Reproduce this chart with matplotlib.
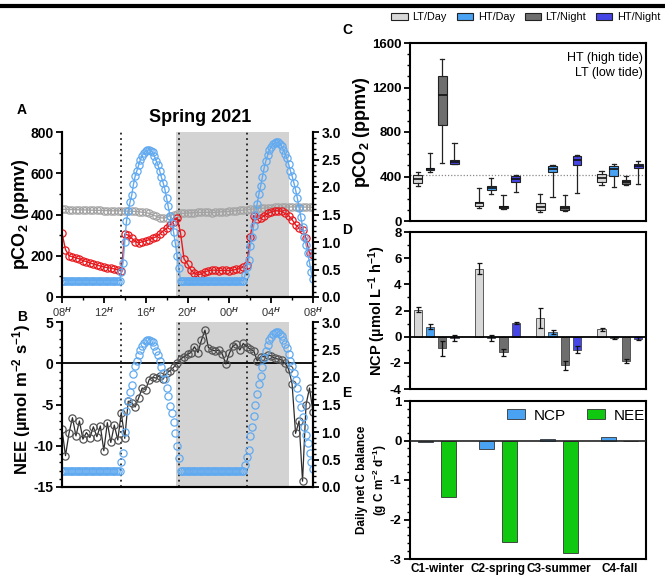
import matplotlib
matplotlib.use('Agg')
import matplotlib.pyplot as plt
import numpy as np
from matplotlib.patches import Patch
from matplotlib.lines import Line2D
from matplotlib.ticker import MultipleLocator

plt.rcParams['font.family'] = ['Liberation Sans', 'DejaVu Sans']
plt.rcParams['font.weight'] = 'bold'
plt.rcParams['mathtext.fontset'] = 'custom'
plt.rcParams['mathtext.rm'] = 'Liberation Sans'
plt.rcParams['mathtext.bf'] = 'Liberation Sans:bold'
plt.rcParams['mathtext.it'] = 'Liberation Sans:italic'
plt.rcParams['axes.linewidth'] = 1.5
plt.rcParams['axes.unicode_minus'] = False

# ---------------- Data: panel A / B (hours after 08:00) ----------------
hour_ticks = [0, 4, 8, 12, 16, 20, 24]
hour_labels = ['08$^{H}$', '12$^{H}$', '16$^{H}$', '20$^{H}$', '00$^{H}$', '04$^{H}$', '08$^{H}$']
tide_boundaries = [5.65, 11.2, 17.7]     # dotted lines
night_start, night_end = 10.9, 21.7       # shaded night

# 20-min samples
pco2_water = [310, 230, 200, 195, 190, 185, 176, 172, 165, 160,
              155, 150, 146, 142, 140, 136, 132, 125, 305, 300,
              285, 268, 262, 268, 272, 278, 285, 292, 305, 320,
              333, 350, 366, 385, 310, 185, 160, 130, 115, 108,
              112, 122, 128, 130, 130, 128, 129, 129, 128, 130,
              134, 138, 145, 155, 290, 395, 380, 382, 395, 405,
              412, 418, 418, 415, 405, 395, 375, 350, 335, 325,
              285, 213, 205]
pco2_air = [425, 425, 424, 424, 423, 423, 422, 422, 421, 421,
            420, 420, 419, 419, 418, 418, 418, 417, 417, 416,
            416, 415, 413, 411, 410, 405, 398, 392, 385, 383,
            385, 395, 400, 403, 405, 406, 407, 408, 409, 410,
            410, 411, 410, 409, 410, 412, 413, 414, 415, 417,
            418, 420, 421, 423, 425, 427, 428, 430, 431, 432,
            433, 434, 435, 435, 436, 436, 437, 437, 437, 436,
            436, 435, 435]
nee = [-8.0, -11.2, -8.5, -6.6, -8.8, -7.0, -9.2, -8.4, -9.0, -7.7,
       -8.9, -7.6, -10.6, -7.2, -9.6, -7.5, -9.3, -6.0, -9.1, -4.6,
       -4.8, -5.3, -4.2, -3.0, -3.2, -2.0, -1.7, -1.8, -1.5, -1.9,
       -1.2, -0.9, -0.5, 0.0, 0.5, 0.8, 1.1, 1.3, 2.0, 1.3,
       2.8, 4.0, 1.9, 1.6, 1.5, 1.6, 1.1, -0.1, 1.2, 2.1,
       2.3, 1.6, 2.4, 2.0, 1.7, 1.5, 0.3, 0.8, 0.8, 1.0,
       0.9, 0.6, 0.5, 0.4, 0.0, -0.7, -2.5, -8.5, -7.0, -14.3,
       -5.0, -3.0, -5.9]
t20 = np.arange(len(pco2_water)) / 3.0

# 10-min samples of water level (m)
tide = [0.30, 0.30, 0.30, 0.30, 0.30, 0.30, 0.30, 0.30, 0.30, 0.30, 0.30, 0.30,
        0.30, 0.30, 0.30, 0.30, 0.30, 0.30, 0.30, 0.30, 0.30, 0.30, 0.30, 0.30,
        0.30, 0.30, 0.30, 0.30, 0.30, 0.30, 0.30, 0.30, 0.30, 0.30,
        0.45, 0.62, 1.00, 1.38, 1.57, 1.72, 1.85, 2.05, 2.20, 2.30, 2.40, 2.50,
        2.57, 2.62, 2.65, 2.67, 2.68, 2.66, 2.63, 2.56, 2.48, 2.40, 2.30, 2.18,
        2.08, 1.96, 1.80, 1.65, 1.47, 1.35, 1.18, 0.98, 0.75, 0.52, 0.30,
        0.30, 0.30, 0.30, 0.30, 0.30, 0.30, 0.30, 0.30, 0.30, 0.30, 0.30, 0.30,
        0.30, 0.30, 0.30, 0.30, 0.30, 0.30, 0.30, 0.30, 0.30, 0.30, 0.30, 0.30,
        0.30, 0.30, 0.30, 0.30, 0.30, 0.30, 0.30, 0.30, 0.30, 0.30, 0.30, 0.30,
        0.40, 0.55, 0.68, 0.92, 1.10, 1.30, 1.50, 1.70, 1.88, 2.02, 2.18, 2.35,
        2.48, 2.58, 2.67, 2.73, 2.78, 2.80, 2.81, 2.81, 2.78, 2.74, 2.68, 2.60,
        2.52, 2.42, 2.30, 2.20, 2.08, 1.95, 1.80, 1.62, 1.45, 1.28, 1.10, 0.95,
        0.80, 0.62, 0.45, 0.32]
t10 = np.arange(len(tide)) / 6.0

# ---------------- Data: panel C (box stats) ----------------
box_groups = ['LT/Day', 'HT/Day', 'LT/Night', 'HT/Night']
c_q1 = [340, 455, 865, 512, 135, 275, 118, 350, 95, 440, 100, 500, 355, 405, 330, 480]
c_med = [380, 468, 1135, 533, 158, 294, 125, 375, 125, 470, 115, 545, 390, 470, 355, 495]
c_q3 = [415, 480, 1305, 548, 175, 315, 133, 405, 165, 490, 135, 582, 420, 495, 370, 510]
c_lo = [318, 443, 525, 510, 120, 245, 105, 265, 85, 215, 90, 255, 320, 305, 325, 335]
c_hi = [443, 608, 1456, 700, 300, 390, 230, 415, 240, 505, 230, 597, 445, 510, 405, 538]
atm_ref = 410

# ---------------- Data: panel D ----------------
ncp_mean = [2.05, 0.75, -0.9, -0.1, 5.2, -0.1, -1.2, 1.05, 1.45, 0.35, -2.2, -1.0, 0.55, -0.1, -1.85, -0.15]
ncp_err = [0.2, 0.2, 0.6, 0.25, 0.4, 0.2, 0.25, 0.1, 0.75, 0.15, 0.35, 0.25, 0.1, 0.1, 0.15, 0.1]

# ---------------- Data: panel E ----------------
campaigns = ['C1-winter', 'C2-spring', 'C3-summer', 'C4-fall']
e_ncp = [-0.05, -0.22, 0.05, 0.09]
e_nee = [-1.43, -2.56, -2.84, 0.0]

# ---------------- Styling ----------------
blue_tide = '#62aaf0'
red = '#e8191e'
gray_air = '#a3a3a3'
group_colors = ['#d8d8d8', '#4aa2f2', '#6e6e6e', '#4646e6']
green = '#10c810'

fig = plt.figure(figsize=(6.65, 5.75), dpi=100)
W, H = 665.0, 575.0


def ax_px(x0, y0, x1, y1):
    return fig.add_axes([x0 / W, 1 - y1 / H, (x1 - x0) / W, (y1 - y0) / H])


def bold_ticks(ax):
    for lab in ax.get_xticklabels() + ax.get_yticklabels():
        lab.set_fontweight('bold')


def ytick_style(ax, size=10):
    ax.tick_params(axis='y', labelsize=size, width=1.3, length=4, pad=2)
    ax.tick_params(axis='y', which='minor', width=1.0, length=2.5)


fig.add_artist(Line2D([0, 1], [1 - 6 / H, 1 - 6 / H], color='k', lw=3, transform=fig.transFigure))

mk = dict(marker='o', mfc='none', ms=5.2, mew=0.9)

# ---------------- Panel A ----------------
axA = ax_px(62, 132, 313, 297)
axA.set_xlim(0, 24)
axA.set_ylim(0, 800)
axA.axvspan(night_start, night_end, color='#d3d3d3', lw=0, zorder=0)
for v in tide_boundaries:
    axA.axvline(v, color='#222222', ls=(0, (1, 2)), lw=1.3, zorder=1)
axA.plot(t20, pco2_air, color=gray_air, lw=1, zorder=3, **mk)
axA.plot(t20, pco2_water, color=red, lw=1, zorder=4, **mk)
axA.spines['top'].set_visible(False)
axA.set_yticks([0, 200, 400, 600, 800])
axA.yaxis.set_minor_locator(MultipleLocator(100))
axA.set_xticks(hour_ticks)
axA.set_xticklabels(hour_labels, fontsize=8, fontweight='normal', color='#333333')
axA.xaxis.set_minor_locator(MultipleLocator(2))
ytick_style(axA)
axA.tick_params(axis='x', width=1.3, length=4, pad=2)
axA.tick_params(axis='x', which='minor', width=1.0, length=2.5)
axA.set_ylabel(r'pCO$_\mathbf{2}$ (ppmv)', fontsize=13, fontweight='bold')
axA.yaxis.set_label_coords(-0.125, 0.5)
for lab in axA.get_yticklabels():
    lab.set_fontweight('bold')

axAr = axA.twinx()
axAr.set_ylim(0, 3)
axAr.plot(t10, tide, color=blue_tide, lw=1, zorder=2, **mk)
axAr.spines['top'].set_visible(False)
axAr.set_yticks([0, 0.5, 1.0, 1.5, 2.0, 2.5, 3.0])
axAr.set_yticklabels(['0.0', '0.5', '1.0', '1.5', '2.0', '2.5', '3.0'])
axAr.yaxis.set_minor_locator(MultipleLocator(0.1))
ytick_style(axAr)
bold_ticks(axAr)

fig.text(200 / W, 1 - 118 / H, 'Spring 2021', ha='center', va='center', fontsize=13, fontweight='bold')
fig.text(22 / W, 1 - 110 / H, 'A', ha='center', va='center', fontsize=10, fontweight='bold')

# ---------------- Panel B ----------------
axB = ax_px(62, 322, 313, 487)
axB.set_xlim(0, 24)
axB.set_ylim(-15, 5)
axB.axvspan(night_start, night_end, color='#d3d3d3', lw=0, zorder=0)
for v in tide_boundaries:
    axB.axvline(v, color='#222222', ls=(0, (1, 2)), lw=1.3, zorder=1)
axB.axhline(0, color='k', lw=1.3, zorder=2)
axB.plot(t20, nee, color='#2b2b2b', lw=0.9, marker='o', mfc='none', mec='#555555', ms=5.2, mew=0.9, zorder=4)
axB.spines['top'].set_visible(False)
axB.set_xticks([])
axB.set_yticks([-15, -10, -5, 0, 5])
axB.yaxis.set_minor_locator(MultipleLocator(1))
ytick_style(axB)
axB.set_ylabel(r'NEE (µmol m$^{\mathbf{-2}}$ s$^{\mathbf{-1}}$)', fontsize=12, fontweight='bold')
axB.yaxis.set_label_coords(-0.115, 0.53)
bold_ticks(axB)

axBr = axB.twinx()
axBr.set_ylim(0, 3)
axBr.plot(t10, tide, color=blue_tide, lw=0, zorder=2, **mk)
axBr.spines['top'].set_visible(False)
axBr.set_yticks([0, 0.5, 1.0, 1.5, 2.0, 2.5, 3.0])
axBr.set_yticklabels(['0.0', '0.5', '1.0', '1.5', '2.0', '2.5', '3.0'])
axBr.yaxis.set_minor_locator(MultipleLocator(0.1))
ytick_style(axBr)
bold_ticks(axBr)
fig.text(22 / W, 1 - 317 / H, 'B', ha='center', va='center', fontsize=10, fontweight='bold')

# ---------------- Panel C ----------------
positions = [g * 5 + i for g in range(4) for i in range(4)]
axC = ax_px(410, 43, 646, 221)
stats = []
for k in range(len(c_med)):
    stats.append(dict(med=c_med[k], q1=c_q1[k], q3=c_q3[k], whislo=c_lo[k], whishi=c_hi[k], fliers=[]))
bp = axC.bxp(stats, positions=positions, widths=0.7, patch_artist=True, showfliers=False,
             boxprops=dict(edgecolor='#222222', linewidth=0.8),
             medianprops=dict(color='#111111', linewidth=1.2),
             whiskerprops=dict(color='#222222', linewidth=0.9),
             capprops=dict(color='#222222', linewidth=0.9), capwidths=0.35)
for k, patch in enumerate(bp['boxes']):
    patch.set_facecolor(group_colors[k % 4])
axC.axhline(atm_ref, color='#888888', ls=(0, (1, 1.5)), lw=0.9, zorder=0)
axC.set_xlim(-0.63, 18.63)
axC.set_ylim(0, 1600)
axC.set_xticks([])
axC.set_yticks([0, 400, 800, 1200, 1600])
axC.yaxis.set_minor_locator(MultipleLocator(100))
ytick_style(axC, 9.5)
axC.set_ylabel(r'pCO$_\mathbf{2}$ (ppmv)', fontsize=13, fontweight='bold')
axC.yaxis.set_label_coords(-0.16, 0.5)
bold_ticks(axC)
axC.text(0.985, 0.95, 'HT (high tide)\nLT (low tide)', transform=axC.transAxes, ha='right', va='top',
         fontsize=9, fontweight='normal', linespacing=1.3)
fig.text(347 / W, 1 - 30 / H, 'C', ha='center', va='center', fontsize=10, fontweight='bold')

handles = [Patch(facecolor=c, edgecolor='#222222', linewidth=0.8) for c in group_colors]
fig.legend(handles, box_groups, loc='center', bbox_to_anchor=(526 / W, 1 - 17 / H), ncol=4, frameon=False,
           prop=dict(size=7.8, weight='normal'), handlelength=1.5, handleheight=0.6,
           columnspacing=0.9, handletextpad=0.45, borderaxespad=0, borderpad=0)

# ---------------- Panel D ----------------
axD = ax_px(410, 232, 646, 389)
axD.bar(positions, ncp_mean, width=0.68, color=[group_colors[k % 4] for k in range(16)],
        edgecolor='#444444', linewidth=0.6, zorder=2)
axD.errorbar(positions, ncp_mean, yerr=ncp_err, fmt='none', ecolor='#111111', elinewidth=0.9,
             capsize=1.8, capthick=0.9, zorder=3)
axD.axhline(0, color='k', lw=1.3, zorder=4)
axD.set_xlim(-0.63, 18.63)
axD.set_ylim(-4, 8)
axD.set_xticks([])
axD.set_yticks([-4, -2, 0, 2, 4, 6, 8])
axD.yaxis.set_minor_locator(MultipleLocator(1))
ytick_style(axD, 9.5)
axD.set_ylabel(r'NCP (µmol L$^{\mathbf{-1}}$ h$^{\mathbf{-1}}$)', fontsize=10.5, fontweight='bold')
axD.yaxis.set_label_coords(-0.095, 0.5)
bold_ticks(axD)
fig.text(347 / W, 1 - 230 / H, 'D', ha='center', va='center', fontsize=10, fontweight='bold')

# ---------------- Panel E ----------------
axE = ax_px(410, 401, 646, 559)
xe = np.arange(len(campaigns))
axE.bar(xe - 0.183, e_ncp, width=0.245, color=group_colors[1], edgecolor='#333333', linewidth=0.6, label='NCP', zorder=2)
axE.bar(xe + 0.183, e_nee, width=0.245, color=green, edgecolor='#333333', linewidth=0.6, label='NEE', zorder=2)
axE.axhline(0, color='#222222', lw=1.2, zorder=3)
axE.set_xlim(-0.445, 3.43)
axE.set_ylim(-3, 1)
axE.set_xticks(xe)
axE.set_xticklabels(campaigns, fontsize=8.5, fontweight='bold')
axE.tick_params(axis='x', length=0, pad=3)
axE.set_yticks([-3, -2, -1, 0, 1])
axE.yaxis.set_minor_locator(MultipleLocator(0.2))
ytick_style(axE, 9.5)
axE.set_ylabel('Daily net C balance\n' + r'(g C m$^{\mathbf{-2}}$ d$^{\mathbf{-1}}$)', fontsize=8.5, fontweight='bold',
               linespacing=1.2)
axE.yaxis.set_label_coords(-0.09, 0.5)
bold_ticks(axE)
axE.legend(loc='upper right', ncol=2, frameon=False, prop=dict(size=11, weight='normal'),
           handlelength=1.15, handleheight=0.6, columnspacing=1.4, handletextpad=0.6,
           borderaxespad=0.1, bbox_to_anchor=(1.03, 1.0))
fig.text(347 / W, 1 - 393 / H, 'E', ha='center', va='center', fontsize=10, fontweight='bold')

fig.savefig('out.png', dpi=100)
